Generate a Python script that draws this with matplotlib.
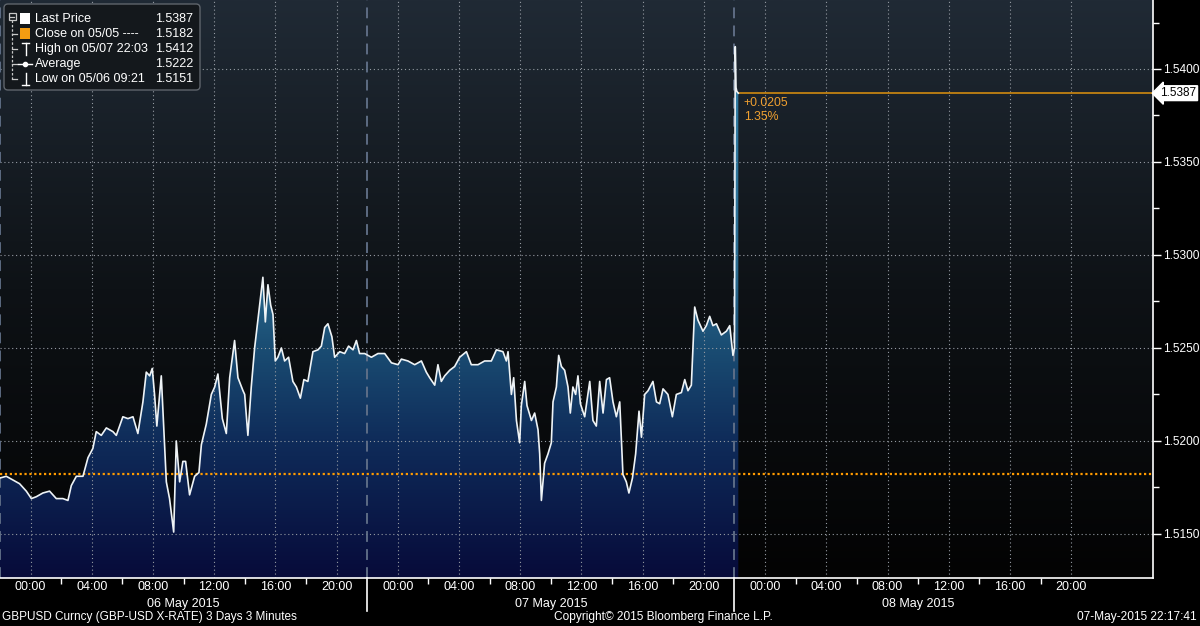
import numpy as np
import matplotlib
matplotlib.use('Agg')
import matplotlib.pyplot as plt
from matplotlib.colors import LinearSegmentedColormap
from matplotlib.patches import FancyBboxPatch, Rectangle
from matplotlib.transforms import blended_transform_factory

plt.rcParams['font.family'] = ['Liberation Sans', 'DejaVu Sans']

# GBPUSD 3 minute bars, hours counted from 06 May 2015 00:00
hours = [-2.03, -1.59, -1.16, -0.72, -0.28, 0.05, 0.37, 0.80, 1.24, 1.68,
         2.11, 2.44, 2.66, 2.99, 3.42, 3.75, 4.07, 4.29, 4.62, 4.95,
         5.38, 5.60, 6.03, 6.36, 6.69, 7.01, 7.34, 7.56, 7.78, 7.95,
         8.10, 8.25, 8.54, 8.65, 8.87, 9.08, 9.35, 9.52, 9.74, 9.95,
         10.13, 10.39, 10.72, 11.00, 11.16, 11.48, 11.81, 12.03, 12.24, 12.53,
         12.79, 13.01, 13.33, 13.55, 13.88,
         13.99, 14.20, 14.42, 14.64, 14.97, 15.18, 15.34, 15.51, 15.69, 15.84,
         15.99, 16.16, 16.39, 16.60, 16.86, 17.14, 17.37, 17.63, 17.86, 18.12,
         18.45, 18.78, 19.00, 19.22, 19.43, 19.69, 19.87, 20.20, 20.52, 20.78,
         21.07, 21.29, 21.50, 21.83, 22.27, 22.70, 23.14, 23.58, 24.01, 24.23,
         24.66, 25.10, 25.54, 25.86, 26.08, 26.41, 26.62, 26.84, 27.06, 27.39,
         27.71, 28.04, 28.48, 28.80, 29.24, 29.67, 30.11,
         30.44, 30.87, 31.09, 31.20, 31.42, 31.57, 31.75, 31.96, 32.07, 32.29,
         32.44, 32.73, 32.94, 33.16, 33.27, 33.38, 33.59, 33.81, 34.03, 34.14,
         34.36, 34.51, 34.69, 34.90, 35.12, 35.27, 35.44, 35.62, 35.77, 35.93,
         36.21, 36.54, 36.75, 36.97, 37.19, 37.41, 37.63, 37.84, 38.06, 38.28,
         38.50, 38.71, 38.93, 39.10, 39.33, 39.54, 39.76, 39.92, 40.13, 40.35,
         40.67, 40.90, 41.11, 41.33, 41.65, 41.94, 42.20, 42.53, 42.75, 42.96,
         43.18, 43.40, 43.61, 43.94, 44.16, 44.38, 44.59, 44.82, 45.14, 45.47,
         45.69, 45.90, 46.00, 46.05, 46.10, 46.15, 46.25]
prices = [1.5180, 1.5181, 1.5179, 1.5177, 1.5173, 1.5169, 1.5170, 1.5172, 1.5173, 1.5169,
          1.5169, 1.5168, 1.5176, 1.5181, 1.5181, 1.5191, 1.5196, 1.5205, 1.5203, 1.5207,
          1.5205, 1.5203, 1.5213, 1.5212, 1.5213, 1.5204, 1.5221, 1.5237, 1.5235, 1.5239,
          1.5225, 1.5208, 1.5235, 1.5216, 1.5178, 1.5169, 1.5151, 1.5200, 1.5178, 1.5189,
          1.5189, 1.5171, 1.5181, 1.5183, 1.5198, 1.5209, 1.5225, 1.5229, 1.5236, 1.5212,
          1.5204, 1.5234, 1.5254, 1.5234, 1.5227,
          1.5225, 1.5203, 1.5229, 1.5250, 1.5273, 1.5288, 1.5264, 1.5284, 1.5273, 1.5268,
          1.5243, 1.5245, 1.5250, 1.5243, 1.5245, 1.5232, 1.5229, 1.5223, 1.5233, 1.5232,
          1.5248, 1.5249, 1.5251, 1.5261, 1.5263, 1.5256, 1.5245, 1.5248, 1.5247, 1.5251,
          1.5249, 1.5254, 1.5247, 1.5247, 1.5245, 1.5247, 1.5247, 1.5242, 1.5241, 1.5244,
          1.5243, 1.5241, 1.5243, 1.5237, 1.5234, 1.5230, 1.5241, 1.5232, 1.5235, 1.5238,
          1.5240, 1.5245, 1.5248, 1.5241, 1.5241, 1.5243, 1.5243,
          1.5249, 1.5248, 1.5243, 1.5248, 1.5225, 1.5234, 1.5211, 1.5199, 1.5219, 1.5232,
          1.5219, 1.5211, 1.5215, 1.5206, 1.5193, 1.5168, 1.5188, 1.5193, 1.5199, 1.5221,
          1.5229, 1.5246, 1.5240, 1.5238, 1.5229, 1.5215, 1.5229, 1.5225, 1.5235, 1.5220,
          1.5213, 1.5232, 1.5211, 1.5208, 1.5232, 1.5215, 1.5233, 1.5234, 1.5221, 1.5213,
          1.5221, 1.5182, 1.5178, 1.5172, 1.5180, 1.5193, 1.5216, 1.5202, 1.5225, 1.5227,
          1.5232, 1.5221, 1.5220, 1.5228, 1.5225, 1.5213, 1.5225, 1.5226, 1.5233, 1.5227,
          1.5230, 1.5272, 1.5265, 1.5259, 1.5262, 1.5267, 1.5262, 1.5263, 1.5257, 1.5259,
          1.5262, 1.5246, 1.5250, 1.5412, 1.5390, 1.5388, 1.5387]

close_prev = 1.5182
avg_price = 1.5222
high_time = '05/07 22:03'
low_time = '05/06 09:21'

x_ticks = list(range(0, 72, 4))
x_tick_labels = ['00:00', '04:00', '08:00', '12:00', '16:00', '20:00'] * 3
day_bounds = [-2, 22, 46, 70]   # FX day rolls at 22:00
day_labels = ['06 May 2015', '07 May 2015', '08 May 2015']
y_ticks = [1.5150, 1.5200, 1.5250, 1.5300, 1.5350, 1.5400]
y_minor = [1.5175, 1.5225, 1.5275, 1.5325, 1.5375, 1.5425]

footer_left = 'GBPUSD Curncy (GBP-USD X-RATE) 3 Days 3 Minutes'
footer_mid = 'Copyright\u00a9 2015 Bloomberg Finance L.P.'
footer_right = '07-May-2015 22:17:41'

x_min, x_max = -2.0, 73.35
y_min, y_max = 1.51263, 1.54371

fig = plt.figure(figsize=(12, 6.26), dpi=100, facecolor='black')
ax = fig.add_axes([0, 48 / 626, 1153 / 1200, 578 / 626])
ax.set_xlim(x_min, x_max)
ax.set_ylim(y_min, y_max)

# background gradient
grad = np.linspace(0, 1, 256).reshape(-1, 1)
bg_cmap = LinearSegmentedColormap.from_list('bg', ['#030303', '#0e1216', '#202a35'])
ax.imshow(grad, extent=[x_min, x_max, y_min, y_max], origin='lower',
          aspect='auto', cmap=bg_cmap, zorder=0)

# area under the price, gradient filled
poly = ax.fill_between(hours, prices, y_min, facecolor='none', edgecolor='none', zorder=1)
fill_cmap = LinearSegmentedColormap.from_list(
    'fill', [(0, '#070b3a'), (0.24, '#0f2c5a'), (0.40, '#1a4d73'),
             (0.53, '#2b6b90'), (1, '#3585ad')])
img = ax.imshow(grad, extent=[x_min, hours[-1], y_min, y_max], origin='lower',
                aspect='auto', cmap=fill_cmap, zorder=1)
img.set_clip_path(poly.get_paths()[0], transform=ax.transData)

# grid
for xt in x_ticks:
    ax.axvline(xt, color='#959ba3', lw=0.8, ls=(0, (1, 2.5)), zorder=2)
for yt in y_ticks:
    ax.axhline(yt, color='#959ba3', lw=0.8, ls=(0, (1, 2.5)), zorder=2)
for d in day_bounds[:3]:
    ax.axvline(d, color='#63728a', lw=1.3, ls=(0, (6, 4)), zorder=2)

ax.axhline(close_prev, color='#ff9a00', lw=1.6, ls=(0, (1, 1.2)), zorder=3)
ax.plot(hours, prices, color='#eef3f6', lw=1.2, zorder=4)
ax.hlines(prices[-1], hours[-1], x_max, color='#d08a10', lw=1.2, zorder=3)

chg = prices[-1] - close_prev
ax.annotate(f'+{chg:.4f}\n{chg / close_prev * 100:.2f}%', xy=(hours[-1], prices[-1]),
            xytext=(4, -3), textcoords='offset points', va='top', ha='left',
            color='#f0a030', fontsize=8.8, linespacing=1.15, zorder=5)

# axes styling
for s in ['left', 'top']:
    ax.spines[s].set_visible(False)
for s in ['right', 'bottom']:
    ax.spines[s].set_color('white')
    ax.spines[s].set_linewidth(1.2)
ax.set_facecolor('black')

ax.yaxis.tick_right()
ax.set_yticks(y_ticks)
ax.set_yticklabels([f'{v:.4f}' for v in y_ticks])
ax.set_yticks(y_minor, minor=True)
ax.tick_params(axis='y', which='major', colors='white', length=6, width=1, pad=1, labelsize=8.6)
ax.tick_params(axis='y', which='minor', colors='white', length=4, width=1)

ax.set_xticks(x_ticks)
ax.set_xticklabels(x_tick_labels)
x_minor = [h for h in range(2, 72, 4) if h not in day_bounds]
ax.set_xticks(x_minor, minor=True)
ax.tick_params(axis='x', which='major', length=0, pad=2, colors='white', labelsize=9)
ax.tick_params(axis='x', which='minor', length=4, width=1, color='white')

trans = blended_transform_factory(ax.transData, ax.transAxes)
for i, lab in enumerate(day_labels):
    ax.text((day_bounds[i] + day_bounds[i + 1]) / 2, -26 / 578, lab, transform=trans,
            ha='center', va='center', color='white', fontsize=9)
for d in day_bounds[1:3]:
    ax.plot([d, d], [0, -33 / 578], transform=trans, color='white', lw=1.2, clip_on=False)

# last price tag
tag_trans = blended_transform_factory(ax.transAxes, ax.transData)
ax.text(1.0 + 7 / 1153, prices[-1], f'{prices[-1]:.4f}', transform=tag_trans,
        color='black', fontsize=8.5, va='center', ha='left', clip_on=False,
        bbox=dict(boxstyle='larrow,pad=0.12', fc='white', ec='white'))

# footer
fy = 1 - 617 / 626
fig.text(2 / 1200, fy, footer_left, color='white', fontsize=8.5, va='center')
fig.text(554 / 1200, fy, footer_mid, color='white', fontsize=8.6, va='center')
fig.text(1197 / 1200, fy, footer_right, color='white', fontsize=8.6, va='center', ha='right')

# legend panel (pixel coordinates)
lg = fig.add_axes([0, 0, 1, 1])
lg.set_xlim(0, 1200)
lg.set_ylim(626, 0)
lg.axis('off')
lg.patch.set_visible(False)
lg.add_patch(FancyBboxPatch((4, 4), 196, 86, boxstyle='round,pad=0,rounding_size=4',
                            fc='#14181c', ec='#5f656c', lw=1))
rows = [19, 34, 49, 64, 79]
leg_labels = ['Last Price', 'Close on 05/05 ----', f'High on {high_time}',
              'Average', f'Low on {low_time}']
leg_values = [prices[-1], close_prev, max(prices), avg_price, min(prices)]
for yy, lab, val in zip(rows, leg_labels, leg_values):
    lg.text(35, yy, lab, color='white', fontsize=9, va='center')
    lg.text(193, yy, f'{val:.4f}', color='white', fontsize=9, va='center', ha='right')
tree_c = '#c8c8c8'
lg.add_patch(Rectangle((8.5, 13), 7, 7, fill=False, ec=tree_c, lw=0.9))
lg.plot([10, 14], [16.5, 16.5], color=tree_c, lw=0.9)
lg.plot([12, 12], [20, 79], color=tree_c, lw=0.9, ls=(0, (2, 1.5)))
for yy in rows[1:]:
    lg.plot([12, 17], [yy, yy], color=tree_c, lw=0.9)
lg.add_patch(Rectangle((20, 13), 10, 11, fc='white', ec='none'))
lg.add_patch(Rectangle((20, 28), 10, 11, fc='#f39c12', ec='none'))
lg.plot([22, 29], [43, 43], color='white', lw=1)
lg.plot([25.5, 25.5], [43, 55], color='white', lw=1)
lg.plot([18, 32], [64, 64], color='white', lw=1)
lg.plot([25], [64], marker='o', ms=3, color='white')
lg.plot([25.5, 25.5], [73, 85], color='white', lw=1)
lg.plot([22, 29], [85, 85], color='white', lw=1)

fig.savefig('out.png', dpi=100, facecolor='black')
